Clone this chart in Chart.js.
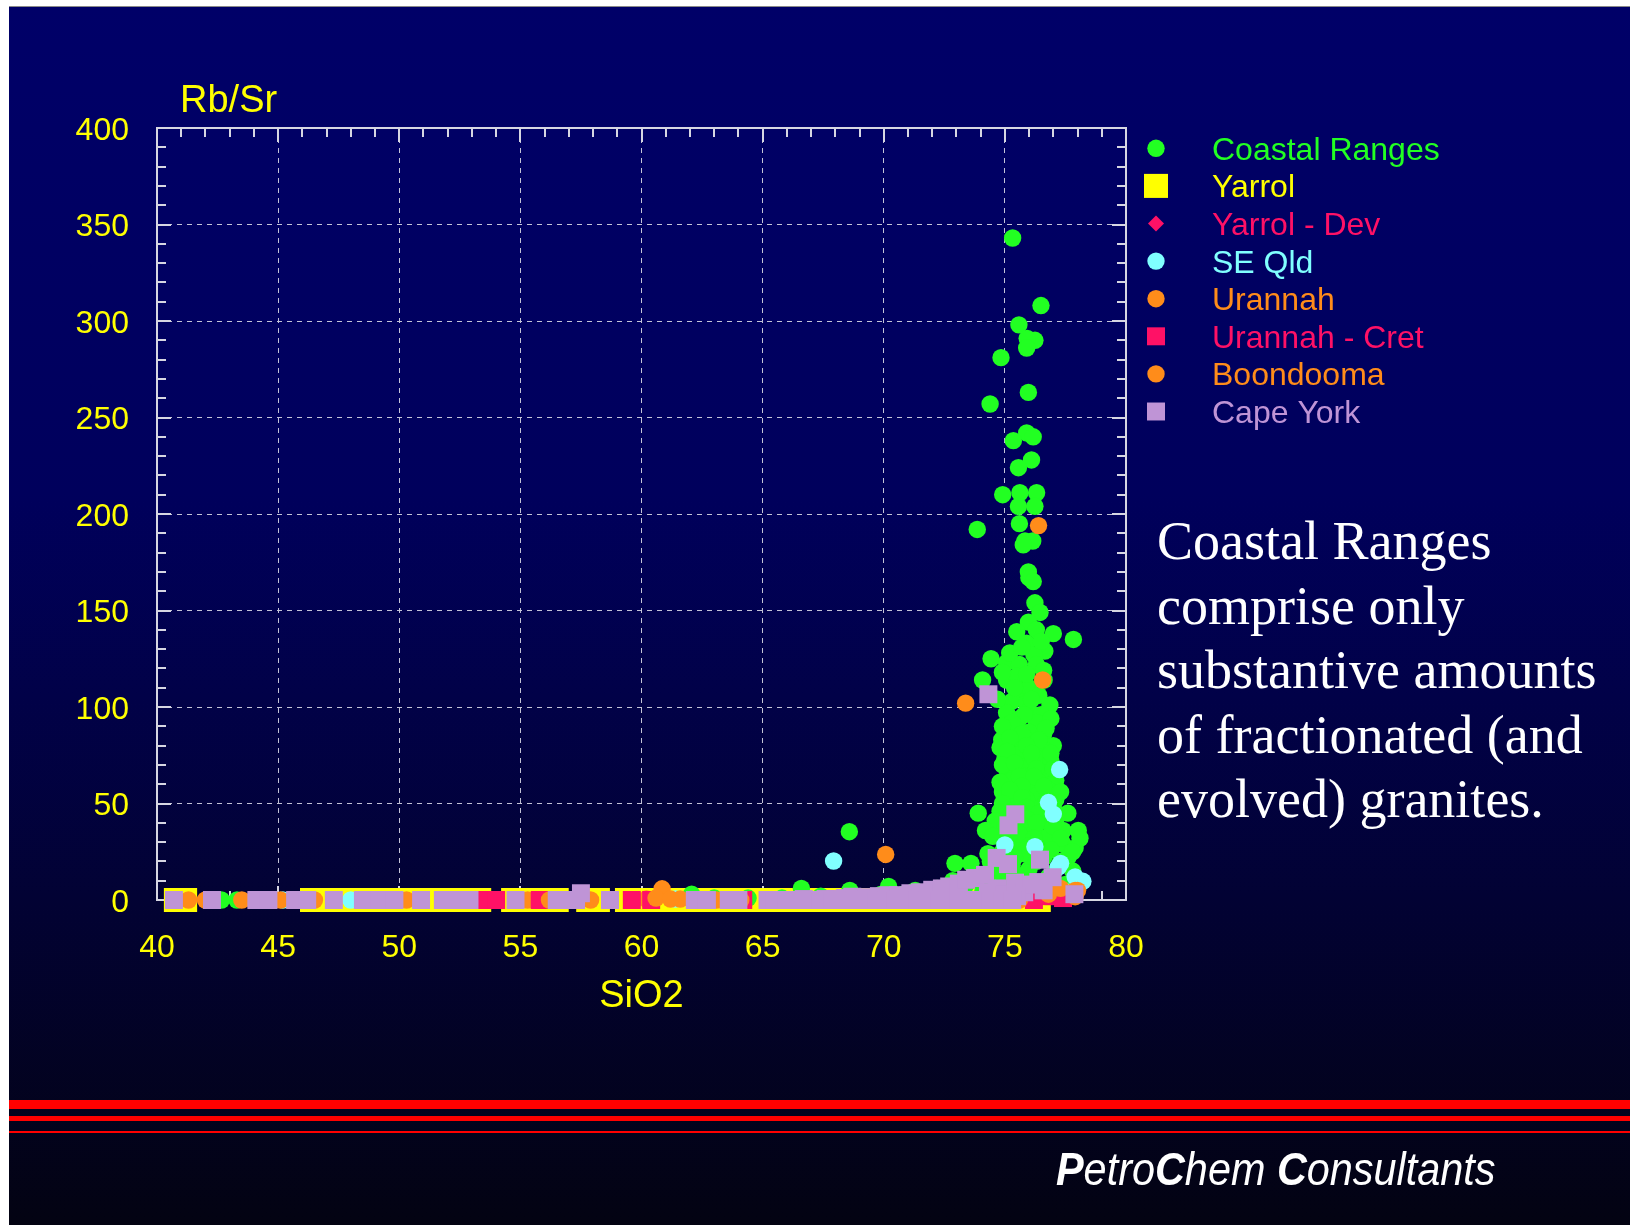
<!DOCTYPE html>
<html>
<head>
<meta charset="utf-8">
<script src="https://cdn.jsdelivr.net/npm/chart.js@4/dist/chart.umd.min.js"></script>
<style>
  html, body { margin: 0; padding: 0; }
  body { width: 1630px; height: 1225px; overflow: hidden; position: relative; background: #ffffff; }
  #bg {
    position: absolute; left: 9px; top: 6px; right: 0; bottom: 0;
    border-top: 1px solid #8a8a8a;
    background: linear-gradient(to bottom, rgb(0,0,104) 0%, rgb(0,0,92) 40%, rgb(2,2,52) 73%, rgb(3,3,18) 100%);
  }
  .red { position: absolute; left: 9px; right: 0; background: #ff0000; }
  #chart { position: absolute; left: 0; top: 0; }
  #ylab {
    position: absolute; left: 180px; top: 80px;
    font: 38px/38px "Liberation Sans", Arial, sans-serif; color: #ffff00; white-space: nowrap;
  }
  #note {
    position: absolute; left: 1157px; top: 509px;
    font: 54px/64.5px "Liberation Serif", "Times New Roman", serif; color: #ffffff; white-space: pre;
  }
  #brand {
    position: absolute; left: 1056px; top: 1146px;
    font: italic 46px/46px "Liberation Sans", Arial, sans-serif; color: #ffffff; white-space: nowrap;
    transform: scaleX(0.9); transform-origin: left center;
  }
</style>
</head>
<body>
<div id="bg"></div>
<div class="red" style="top:1100px;height:9px"></div>
<div class="red" style="top:1116px;height:5px"></div>
<div class="red" style="top:1131px;height:2px"></div>
<canvas id="chart" width="1630" height="1225"></canvas>
<div id="ylab">Rb/Sr</div>
<div id="note">Coastal Ranges
comprise only
substantive amounts
of fractionated (and
evolved) granites.</div>
<div id="brand"><b>P</b>etro<b>C</b>hem <b>C</b>onsultants</div>
<script>
// axis ticks
const xTicks = [40, 45, 50, 55, 60, 65, 70, 75, 80];
const yTicks = [0, 50, 100, 150, 200, 250, 300, 350, 400];

// series: [SiO2, Rb/Sr]
const coastalRanges = [
  [75.32,343],[76.49,308],[75.58,298],[76.24,290],[75.92,291],[75.9,286],[74.84,281],[75.97,263],[74.39,257],
  [75.9,242],[76.17,240],[75.35,238],[76.1,228],[75.56,224],[74.91,210],[75.62,211],[76.31,211],[75.56,204],
  [76.24,204],[75.6,195],[73.86,192],[75.83,186],[76.15,186],[75.76,184],[75.97,170],[75.99,167],[76.17,165],
  [76.24,154],[76.45,149],[75.97,144],[75.49,139],[76.3,140],[77.0,138],[77.83,135],[75.9,133],[76.65,129],
  [76.2,127],[74.43,125],[75.07,123],[75.6,122],[76.3,122],[74.08,114],[75.07,114],[75.5,116],[76.62,114],
  [75.62,108],[76.0,110],[76.86,101],[75.3,103],[75.9,102],[76.0,98],[75.07,97],[76.5,96],[75.6,94],
  [76.3,92],[75.5,89],[75.1,88],[76.0,87],[76.6,86],[75.8,84],[74.87,83],[75.4,81],[76.3,80],[77.0,80],
  [76.6,78],[74.8,79],[75.7,77],[75.5,75],[75.0,73],[76.4,73],[76.9,72],[76.0,70],[75.6,69],[75.3,67],
  [76.7,66],[75.1,64],[75.8,64],[77.1,62],[75.3,62],[76.4,61],[76.0,58],[76.8,57],[74.9,56],[75.5,55],
  [76.3,54],[77.1,52],[75.9,52],[75.2,50],[76.5,48],[75.6,46],[74.8,46],[73.9,45],[76.1,44],[77.2,44],
  [74.6,41],[75.4,40],[76.6,41],[75.8,38],[76.25,37],[74.2,36],[77.4,36],[78.03,36],[76.8,33],[75.1,32],
  [75.5,30],[76.3,28],[77.4,29],[77.9,27],[74.9,25],[75.8,24],[76.6,22],[77.6,22],[74.4,20],[72.94,19],
  [73.6,19],[75.3,18],[76.0,16],[77.0,14],[74.6,13],[75.6,11],[72.85,10],[76.4,9],[77.5,8],[73.4,8],
  [74.1,5],[75.0,4],[77.8,3],[72.2,6],[71.3,5],[70.8,3],[69.9,3],[70.2,7],[68.58,35.4],[68.6,5],
  [66.6,6],[67.4,2],[65.8,1],[64.4,1],[63.0,1],[62.07,3],[43.3,0],[42.66,0],
  [75.2,128],[75.7,131],[76.5,134],[74.9,118],[75.9,117],[76.6,119],[75.4,110],[76.4,106],[74.7,104],
  [76.1,104],[75.8,96],[76.9,94],[75.3,92],[74.9,90],[76.7,89],[75.7,86],[75.2,84],[76.4,83],[75.9,80],
  [75.1,77],[76.1,76],[76.9,76],[74.9,70],[75.4,71],[76.3,68],[77.0,68],[75.6,64],[76.2,64],[74.8,61],
  [75.7,59],[76.6,59],[75.2,57],[77.3,56],[75.7,53],[76.7,51],[74.9,50],[75.9,48],[77.0,48],[75.3,45],
  [76.4,45],[77.6,45],[75.9,42],[75.0,38],[76.3,40],[77.0,38],[74.5,33],[75.6,34],[76.2,32],[77.3,32],
  [78.1,32],[75.0,28],[76.0,28],[76.9,26],[77.8,25],[74.3,24],[75.4,22],[76.3,20],[77.3,20],[74.9,16],
  [75.9,14],[76.8,12],[77.8,15],[74.1,13],[75.2,11],[76.1,10],[77.1,7],[74.6,8],[75.4,5],[76.3,3],[77.3,2]
];
const yarrol = [
  [40.78,0],[41.16,0],[46.4,0],[46.9,0],[47.4,0],[47.9,0],[48.4,0],[48.9,0],[49.4,0],[49.9,0],[50.4,0],
  [50.9,0],[51.4,0],[51.9,0],[52.4,0],[52.9,0],[53.3,0],[54.7,0],[55.2,0],[55.6,0],[56.1,0],[56.5,0],
  [57.8,0],[58.2,0],[59.4,0],[59.9,0],[60.6,0],[61.1,0],[61.7,0],[62.3,0],[62.8,0],[63.3,0],[64.0,0],
  [64.6,0],[65.1,0],[65.7,0],[66.2,0],[66.8,0],[67.3,0],[67.9,0],[68.4,0],[69.1,0],[69.6,0],[70.2,0],
  [70.8,0],[71.3,0],[71.9,0],[72.4,0],[73.1,0],[73.6,0],[74.2,0],[74.8,0],[75.3,0],[75.9,0],[76.4,0]
];
const yarrolDev = [[49.5,0],[52.4,0],[65.3,0],[68.0,0]];
const seQld = [
  [67.93,20.2],[77.26,67.6],[76.8,50.5],[77.0,44.5],[75.0,28.5],[76.24,27.6],[77.3,19],[77.2,17],
  [78.22,9.7],[77.9,12],[75.6,8],[76.1,5],[45.2,0],[48.0,0],[61.4,0.5],[74.6,6],[77.6,4]
];
const urannah = [
  [76.39,194],[76.56,114],[73.38,102],[70.08,23.6],[60.85,5.8],[76.45,3.6],[77.9,5],
  [41.3,0],[43.5,0],[46.5,0],[55.3,0],[60.2,0.5],[61.6,0.5]
];
const urannahCret = [
  [53.5,0],[54.0,0],[55.8,0],[59.6,0],[60.4,0],[64.2,0],[75.6,1],[76.2,0],[76.7,2],[77.0,2],[77.4,1]
];
const boondooma = [
  [42.0,0],[45.1,0],[50.3,0],[56.2,0],[57.9,0],[60.6,1],[61.2,0.5],[63.1,0],[64.1,0],[66.3,0],
  [75.6,0],[76.8,3],[77.9,1.7],[78.0,5],[77.3,6]
];
const capeYork = [
  [40.7,0],[42.27,0],[44.1,0],[44.6,0],[45.7,0],[46.2,0],[47.3,0],[48.5,0],[49.2,0],[49.8,0],[50.9,0],
  [51.8,0],[52.4,0],[52.9,0],[54.8,0],[56.5,0],[56.9,0],[57.3,0],[57.5,3.5],[58.7,0],[62.2,0],[62.7,0],
  [63.6,0],[64.0,0],[65.2,0],[65.5,0],[66.2,0],[66.7,0.5],[67.1,0],[67.6,0.5],[68.0,0.5],[68.4,1],
  [68.7,1.7],[69.3,1.5],[69.8,2],[70.2,2.5],[70.6,2.5],[71.1,3.5],[71.5,4],[72.0,5.3],[72.4,6],[72.7,7],
  [73.1,8.5],[73.4,10.5],[73.77,11.4],[74.18,13],[74.3,4],[74.7,6],[75.0,3],[74.66,21.8],[75.13,18.6],
  [75.43,44.4],[75.15,38.7],[74.32,106.6],[76.45,20.9],[76.97,11.8],[76.38,9.3],[75.42,9],[77.87,3],
  [75.8,4],[76.1,8],[76.6,5],[75.5,2],
  [66.0,0],[66.5,0],[67.0,0],[67.4,0],[67.9,0],[68.3,0],[68.8,0],[69.2,0],[69.7,0],[70.1,0],[70.5,0],
  [71.0,0],[71.4,0],[71.8,0],[72.3,0],[72.7,0],[73.1,0],[73.6,0],[74.0,0],[74.4,0],[74.9,0],[75.3,0]
];

const seriesNames = ['Coastal Ranges', 'Yarrol', 'Yarrol - Dev', 'SE Qld', 'Urannah', 'Urannah - Cret', 'Boondooma', 'Cape York'];
const seriesData = [coastalRanges, yarrol, yarrolDev, seQld, urannah, urannahCret, boondooma, capeYork];

// marker look
const seriesColors = ['#22ff22', '#ffff00', '#ff1166', '#80ffff', '#ff8c1a', '#ff1166', '#ff8c1a', '#bf94d6'];
const seriesShapes = ['circle', 'rect', 'rectRot', 'circle', 'circle', 'rect', 'circle', 'rect'];
const seriesRadius = [8.7, 17, 8, 8.7, 8.7, 12.7, 8.7, 12.7];
const drawRank = [6, 7, 5, 4, 3, 2, 1, 0];

Chart.defaults.font.family = '"Liberation Sans", Arial, sans-serif';

const datasets = seriesNames.map((name, i) => ({
	label: name,
	data: seriesData[i].map((p) => ({ x: p[0], y: p[1] })),
	backgroundColor: seriesColors[i],
	borderWidth: 0,
	pointStyle: seriesShapes[i],
	pointRadius: seriesRadius[i],
	pointHoverRadius: seriesRadius[i],
	order: drawRank[i],
	clip: false,
}));

function drawMarker(ctx, shape, r, x, y) {
	ctx.beginPath();
	if (shape === 'circle') {
		ctx.arc(x, y, r, 0, Math.PI * 2);
	} else if (shape === 'rect') {
		const s = r * Math.SQRT1_2;
		ctx.rect(x - s, y - s, 2 * s, 2 * s);
	} else {
		ctx.moveTo(x - r, y);
		ctx.lineTo(x, y - r);
		ctx.lineTo(x + r, y);
		ctx.lineTo(x, y + r);
		ctx.closePath();
	}
	ctx.fill();
}

// frame and inward minor ticks, under the markers
const frameTicks = {
	id: 'frameTicks',
	beforeDatasetsDraw(chart) {
		const { ctx, chartArea: a, scales } = chart;
		const x = scales.x, y = scales.y;
		ctx.save();
		ctx.strokeStyle = '#d6d6e2';
		ctx.lineWidth = 2;
		ctx.beginPath();
		for (let v = x.min; v <= x.max; v += 1) {
			const px = Math.round(x.getPixelForValue(v));
			const len = v % 5 === 0 ? 14 : 9;
			ctx.moveTo(px, a.bottom);
			ctx.lineTo(px, a.bottom - len);
			ctx.moveTo(px, a.top);
			ctx.lineTo(px, a.top + len);
		}
		for (let v = y.min; v <= y.max; v += 10) {
			const py = Math.round(y.getPixelForValue(v));
			const len = v % 50 === 0 ? 14 : 9;
			ctx.moveTo(a.left, py);
			ctx.lineTo(a.left + len, py);
			ctx.moveTo(a.right, py);
			ctx.lineTo(a.right - len, py);
		}
		ctx.stroke();
		ctx.strokeRect(a.left, a.top, a.right - a.left, a.bottom - a.top);
		ctx.restore();
	},
};

// legend at the right of the plot
const sideLegend = {
	id: 'sideLegend',
	afterDraw(chart) {
		const ctx = chart.ctx;
		const size = 32;
		ctx.save();
		ctx.font = size + 'px "Liberation Sans", Arial, sans-serif';
		ctx.textBaseline = 'alphabetic';
		ctx.textAlign = 'left';
		chart.data.datasets.forEach((ds, i) => {
			const cy = 148.3 + i * 37.6;
			ctx.fillStyle = ds.backgroundColor;
			drawMarker(ctx, ds.pointStyle, ds.pointRadius, 1156, cy);
			ctx.fillText(ds.label, 1212, cy + size * 0.358);
		});
		ctx.restore();
	},
};

new Chart(document.getElementById('chart'), {
	type: 'scatter',
	data: { datasets: datasets },
	options: {
		responsive: false,
		animation: false,
		devicePixelRatio: 1,
		events: [],
		layout: { padding: { left: 20, top: 128, right: 504, bottom: 206 } },
		plugins: {
			legend: { display: false },
			tooltip: { enabled: false },
		},
		scales: {
			x: {
				type: 'linear',
				position: 'bottom',
				min: xTicks[0],
				max: xTicks[xTicks.length - 1],
				afterBuildTicks: (scale) => { scale.ticks = xTicks.map((v) => ({ value: v })); },
				ticks: { color: '#ffff00', font: { size: 32 }, padding: 29, maxRotation: 0, autoSkip: false },
				grid: { color: 'rgba(205,205,222,0.95)', lineWidth: 1, drawTicks: false },
				border: { display: false, dash: [5, 5] },
				title: { display: true, text: 'SiO2', color: '#ffff00', font: { size: 38 }, padding: 0 },
				afterFit: (scale) => { scale.height = 119; },
			},
			y: {
				type: 'linear',
				position: 'left',
				min: yTicks[0],
				max: yTicks[yTicks.length - 1],
				afterBuildTicks: (scale) => { scale.ticks = yTicks.map((v) => ({ value: v })); },
				ticks: { color: '#ffff00', font: { size: 32 }, padding: 28, labelOffset: 3, autoSkip: false },
				grid: { color: 'rgba(205,205,222,0.95)', lineWidth: 1, drawTicks: false },
				border: { display: false, dash: [5, 5] },
				afterFit: (scale) => { scale.width = 137; },
			},
		},
	},
	plugins: [frameTicks, sideLegend],
});
</script>
</body>
</html>
